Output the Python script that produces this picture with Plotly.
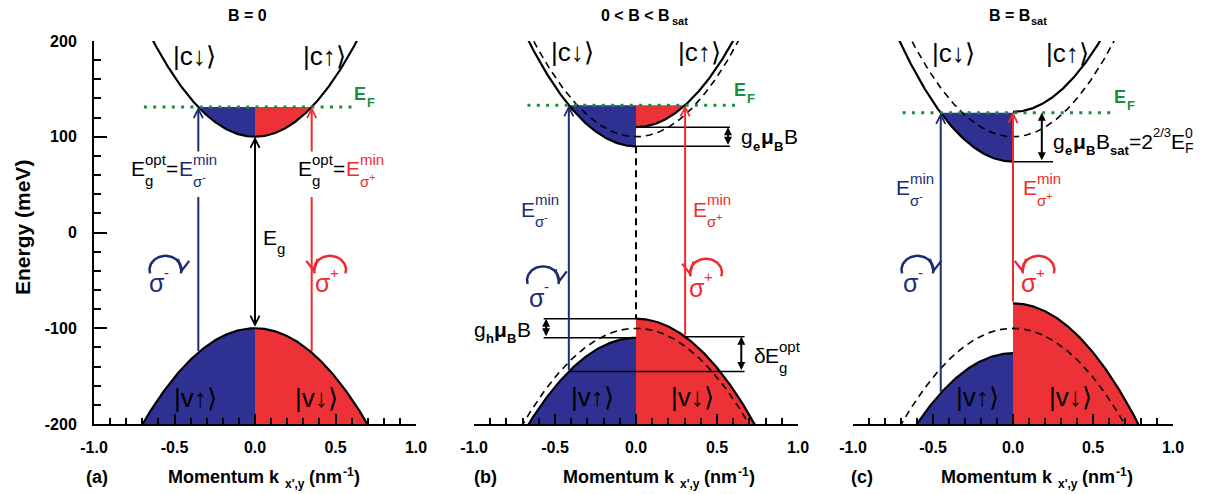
import re
import numpy as np
import plotly.graph_objects as go

# ---------------- values ----------------
panel_titles = ["B = 0", "0 &lt; B &lt; B", "B = B"]
panel_title_subs = ["", "sat", "sat"]
panel_tags = ["(a)", "(b)", "(c)"]
x_ticks = [-1.0, -0.5, 0.0, 0.5, 1.0]
y_ticks = [-200, -100, 0, 100, 200]

EC0 = 100.0      # conduction band bottom at B = 0 (meV)
EV0 = -100.0     # valence band top at B = 0 (meV)
MC = 250.0       # conduction band curvature (meV nm^2)
MV = 205.0       # valence band curvature (meV nm^2)
fermi = [131.0, 133.0, 125.0]      # Fermi level in each panel (meV)
split_c = [0.0, 10.0, 26.0]        # half Zeeman splitting, conduction band
split_v = [0.0, 10.0, 26.0]        # half Zeeman splitting, valence band

# ---------------- style / layout ----------------
FONT = "Liberation Sans, Arial, Helvetica, sans-serif"
W, H = 1207, 494
BLUE_FILL = "#2e3192"
RED_FILL = "#ed3237"
NAVY = "#1c2b72"
RED = "#ef2b2f"
GREEN = "#1b8c3e"
XPIX = [(94, 416), (474, 798), (853, 1173)]
YPIX = (41, 424)
XD = [(a / W, b / W) for a, b in XPIX]
YD = ((H - YPIX[1]) / H, (H - YPIX[0]) / H)
PPK = [(b - a) / 2.0 for a, b in XPIX]
PPE = (YPIX[1] - YPIX[0]) / 400.0
XA = ["x", "x2", "x3"]
YA = ["y", "y2", "y3"]
EF_SPAN = [(-0.69, 0.62), (-0.67, 0.62), (-0.69, 0.62)]


def ecd(p, k):
    return EC0 - split_c[p] + MC * np.asarray(k) ** 2


def ecu(p, k):
    return EC0 + split_c[p] + MC * np.asarray(k) ** 2


def evu(p, k):
    return EV0 - split_v[p] - MV * np.asarray(k) ** 2


def evd(p, k):
    return EV0 + split_v[p] - MV * np.asarray(k) ** 2


CW = {'E': 0.667, 'g': 0.556, 'o': 0.556, 'p': 0.556, 't': 0.278, 'm': 0.833,
      'i': 0.222, 'n': 0.556, '=': 0.584, 'σ': 0.6, '-': 0.333, '+': 0.584,
      'δ': 0.556, '0': 0.556, 'F': 0.611, '2': 0.556, '/': 0.278, '3': 0.556,
      'B': 0.667, 'e': 0.556, 'h': 0.556, 'μ': 0.576, 's': 0.5, 'a': 0.556,
      ' ': 0.278, '<': 0.584, 'M': 0.833, 'u': 0.556, 'k': 0.5, 'x': 0.5,
      "'": 0.191, ',': 0.278, 'y': 0.5, '(': 0.333, ')': 0.333, '1': 0.556,
      'b': 0.556, 'c': 0.5}


def tw(s, size, bold=False):
    s = re.sub(r"<[^>]+>", "", s).replace("&lt;", "<")
    return sum(CW.get(ch, 0.556) for ch in s) * size * (1.07 if bold else 1.0)


def rich(xref, yref, x, y, toks, size=21, color="black", bold=False,
         anchor="left", sup_dy=0.45, sub_dy=-0.55, ssize=None):
    ssize = ssize or round(size * 0.68)
    segs = []
    cur = 0.0
    for t in toks:
        if isinstance(t, str):
            t = {"t": t}
        c = t.get("color", color)
        b = t.get("bold", bold)
        if "t" in t:
            s = t.get("size", size)
            segs.append((t["t"], s, c, b, cur, 0.0))
            cur += tw(t["t"], s, b)
        else:
            s = t.get("ssize", ssize)
            sb = t.get("sbold", b)
            w = 0.0
            if t.get("sup"):
                segs.append((t["sup"], s, c, sb, cur, t.get("sup_dy", sup_dy) * size))
                w = max(w, tw(t["sup"], s, sb))
            if t.get("sub"):
                segs.append((t["sub"], s, c, sb, cur, t.get("sub_dy", sub_dy) * size))
                w = max(w, tw(t["sub"], s, sb))
            cur += w + 0.5
    shift = {"left": 0.0, "center": -cur / 2.0, "right": -cur}[anchor]
    out = []
    for text, s, c, b, xo, dy in segs:
        out.append(dict(xref=xref, yref=yref, x=x, y=y, xanchor="left",
                        yanchor="middle", xshift=xo + shift, yshift=dy,
                        text=text, showarrow=False, borderpad=0,
                        font=dict(family=FONT, size=s, color=c,
                                  weight="bold" if b else "normal")))
    return out


fig = go.Figure()
anns = []


def line(p, xs, ys, color="black", width=2.2, dash=None):
    fig.add_trace(go.Scatter(x=list(xs), y=list(ys), xaxis=XA[p], yaxis=YA[p],
                             mode="lines", line=dict(color=color, width=width, dash=dash),
                             hoverinfo="skip", showlegend=False))


def poly(p, xs, ys, color):
    fig.add_trace(go.Scatter(x=list(xs), y=list(ys), xaxis=XA[p], yaxis=YA[p],
                             mode="lines", fill="toself", fillcolor=color,
                             line=dict(width=0, color=color),
                             hoverinfo="skip", showlegend=False))


def arrow(p, x0, y0, x1, y1, color, width=2.0, head=True, both=False,
          size=0.9, style=5):
    d = dict(xref=XA[p], yref=YA[p], axref=XA[p], ayref=YA[p], x=x1, y=y1,
             ax=x0, ay=y0, text="", showarrow=True, arrowcolor=color,
             arrowwidth=width, arrowhead=style if head else 0, arrowsize=size,
             standoff=0, startstandoff=0)
    if both:
        d.update(arrowside="end+start", startarrowhead=style, startarrowsize=size)
    anns.append(d)


def sigma_arc(p, cx, cy, color, clockwise):
    rxp, ryp = 16.0, 14.0
    deg = np.linspace(195, -15, 60) if clockwise else np.linspace(-15, 195, 60)
    th = np.radians(deg)
    line(p, cx + rxp * np.cos(th) / PPK[p], cy + ryp * np.sin(th) / PPE,
         color=color, width=2.5)
    px, py = rxp * np.cos(th), -ryp * np.sin(th)
    d = np.array([px[-1] - px[-4], py[-1] - py[-4]])
    d = d / np.hypot(*d)
    anns.append(dict(xref=XA[p], yref=YA[p], x=cx + rxp * np.cos(th[-1]) / PPK[p],
                     y=cy + ryp * np.sin(th[-1]) / PPE, ax=-d[0] * 7, ay=-d[1] * 7,
                     text="", showarrow=True, arrowhead=5, arrowsize=0.9,
                     arrowwidth=2.5, arrowcolor=color, standoff=0))


# label positions (k, E) per panel
c_dn_lab = [(-0.373, 184.5), (-0.389, 188), (-0.375, 187)]
c_up_lab = [(0.429, 184.5), (0.395, 188), (0.3375, 187)]
v_up_lab = [(-0.37, -172.8), (-0.27, -172), (-0.22, -172)]
v_dn_lab = [(0.379, -172.8), (0.346, -172), (0.36, -172)]
ef_lab = [(0.609, 144.6), (0.599, 149), (0.625, 141)]
smin_arc = [(-0.556, -39), (-0.574, -50), (-0.597, -39)]
smin_txt = [(-0.60, -53), (-0.605, -68), (-0.63, -53)]
splus_arc = [(0.466, -39), (0.432, -42), (0.159, -39)]
splus_txt = [(0.441, -53), (0.395, -58), (0.12, -53)]
emin_lab = [(-0.776, 66.8), (-0.716, 24.5), (-0.7375, 46.5)]
eplus_lab = [(0.261, 66.8), (0.343, 24.5), (0.054, 46.5)]
GAP_A = (37, 83)
tag_px = [85, 473, 850]
mom_px = [167, 562, 940]
title_px = [(247, "center"), (600, "left"), (988, "left")]

for p in range(3):
    ef = fermi[p]
    c_dn0, c_up0 = float(ecd(p, 0)), float(ecu(p, 0))
    v_up0, v_dn0 = float(evu(p, 0)), float(evd(p, 0))
    kL = -np.sqrt((ef - c_dn0) / MC)
    kR = np.sqrt(max(ef - c_up0, 0.0) / MC)

    # valence fills
    kb = np.sqrt((v_up0 + 200) / MV)
    kk = np.linspace(-kb, 0, 150)
    poly(p, np.concatenate([kk, [0, -kb]]), np.concatenate([evu(p, kk), [-200, -200]]), BLUE_FILL)
    kb = np.sqrt((v_dn0 + 200) / MV)
    kk = np.linspace(0, kb, 150)
    poly(p, np.concatenate([kk, [kb, 0]]), np.concatenate([evd(p, kk), [-200, -200]]), RED_FILL)
    # conduction fills
    kk = np.linspace(kL, 0, 150)
    poly(p, np.concatenate([kk, [0, kL]]), np.concatenate([ecd(p, kk), [ef, ef]]), BLUE_FILL)
    if kR > 0:
        kk = np.linspace(0, kR, 150)
        poly(p, np.concatenate([kk, [0]]), np.concatenate([ecu(p, kk), [ef]]), RED_FILL)

    # B = 0 bands (dashed)
    if p > 0:
        kf = np.linspace(-1, 1, 401)
        line(p, kf, EC0 + MC * kf ** 2, width=1.6, dash="7px,5px")
        line(p, kf, EV0 - MV * kf ** 2, width=1.6, dash="7px,5px")
    # spin bands (solid)
    kl = np.linspace(-1, 0, 201)
    kr = np.linspace(0, 1, 201)
    line(p, kl, ecd(p, kl))
    line(p, kr, ecu(p, kr))
    line(p, kl, evu(p, kl))
    line(p, kr, evd(p, kr))
    # Fermi level
    line(p, EF_SPAN[p], [ef, ef], color=GREEN, width=3, dash="3px,6.3px")

    # transitions
    if p == 0:
        arrow(p, kL, float(evu(p, kL)), kL, GAP_A[0], NAVY, head=False)
        arrow(p, kL, GAP_A[1], kL, ef, NAVY)
        arrow(p, kR, float(evd(p, kR)), kR, GAP_A[0], RED, head=False)
        arrow(p, kR, GAP_A[1], kR, ef, RED)
        arrow(p, 0, v_up0, 0, c_dn0, "black", both=True)
    else:
        arrow(p, kL, float(evu(p, kL)), kL, ef, NAVY)
        arrow(p, kR, float(evd(p, kR)), kR, float(ecu(p, kR)), RED)

    if p == 1:
        line(p, [0, 0], [c_dn0, v_dn0], width=2, dash="7px,5px")
        # conduction splitting
        line(p, [0, 0.58], [c_up0, c_up0], width=1.5)
        line(p, [0, 0.58], [c_dn0, c_dn0], width=1.5)
        arrow(p, 0.568, c_dn0, 0.568, c_up0, "black", both=True, size=0.8, style=2)
        anns.extend(rich(XA[p], YA[p], 0.642, 100,
                         ["g", {"sub": "e", "sbold": True}, {"t": "μ", "bold": True},
                          {"sub": "B", "sbold": True}, "B"],
                         size=21, ssize=13, sub_dy=-0.45))
        # valence splitting
        line(p, [-0.57, 0], [v_dn0, v_dn0], width=1.5)
        line(p, [-0.57, 0], [v_up0, v_up0], width=1.5)
        arrow(p, -0.555, v_up0, -0.555, v_dn0, "black", both=True, size=0.8, style=2)
        anns.extend(rich(XA[p], YA[p], -0.654, -101,
                         ["g", {"sub": "h", "sbold": True}, {"t": "μ", "bold": True},
                          {"sub": "B", "sbold": True}, "B"],
                         size=21, ssize=13, sub_dy=-0.45, anchor="right"))
        # optical gap shift
        yR, yL = float(evd(p, kR)), float(evu(p, kL))
        line(p, [kR, 0.67], [yR, yR], width=1.5)
        line(p, [kL, 0.67], [yL, yL], width=1.5)
        arrow(p, 0.65, yL, 0.65, yR, "black", both=True, size=0.8, style=2)
        anns.extend(rich(XA[p], YA[p], 0.72, -128.5,
                         ["δ", "E", {"sup": "opt", "sub": "g"}], size=21, ssize=15))
    if p == 2:
        line(p, [0, 0.25], [c_dn0, c_dn0], width=1.5)
        arrow(p, 0.18, c_dn0, 0.18, ef, "black", both=True, size=0.8, style=2)
        anns.extend(rich(XA[p], YA[p], 0.244, 95,
                         ["g", {"sub": "e", "sbold": True}, {"t": "μ", "bold": True},
                          {"sub": "B", "sbold": True}, "B", {"sub": "sat", "sbold": True},
                          "=2", {"sup": "2/3"}, "E",
                          {"sup": "0", "sub": "F", "sup_dy": 0.42, "sub_dy": -0.32, "ssize": 14}],
                         size=21, ssize=13, sub_dy=-0.45, sup_dy=0.45))

    # circular polarisation symbols
    sigma_arc(p, smin_arc[p][0], smin_arc[p][1], NAVY, True)
    sigma_arc(p, splus_arc[p][0], splus_arc[p][1], RED, False)
    anns.extend(rich(XA[p], YA[p], smin_txt[p][0], smin_txt[p][1],
                     ["σ", {"sup": "-"}], size=25, ssize=15, color=NAVY, anchor="center"))
    anns.extend(rich(XA[p], YA[p], splus_txt[p][0], splus_txt[p][1],
                     ["σ", {"sup": "+"}], size=25, ssize=15, color=RED, anchor="center"))

    # E_min labels
    if p == 0:
        anns.extend(rich(XA[p], YA[p], emin_lab[p][0], emin_lab[p][1],
                         ["E", {"sup": "opt", "sub": "g"}, "=", {"t": "E", "color": NAVY},
                          {"sup": "min", "sub": "σ<sup>-</sup>", "color": NAVY}],
                         size=21, ssize=15))
        anns.extend(rich(XA[p], YA[p], eplus_lab[p][0], eplus_lab[p][1],
                         ["E", {"sup": "opt", "sub": "g"}, "=", {"t": "E", "color": RED},
                          {"sup": "min", "sub": "σ<sup>+</sup>", "color": RED}],
                         size=21, ssize=15))
        anns.extend(rich(XA[p], YA[p], 0.043, -5.7, ["E", {"sub": "g"}],
                         size=21, ssize=15, sub_dy=-0.5))
    else:
        anns.extend(rich(XA[p], YA[p], emin_lab[p][0], emin_lab[p][1],
                         ["E", {"sup": "min", "sub": "σ<sup>-</sup>"}],
                         size=21, ssize=15, color=NAVY))
        anns.extend(rich(XA[p], YA[p], eplus_lab[p][0], eplus_lab[p][1],
                         ["E", {"sup": "min", "sub": "σ<sup>+</sup>"}],
                         size=21, ssize=15, color=RED))

    # band labels
    for (kx, ey), txt in [(c_dn_lab[p], "|c\u2193\u27e9"), (c_up_lab[p], "|c\u2191\u27e9"),
                          (v_up_lab[p], "|v\u2191\u27e9"), (v_dn_lab[p], "|v\u2193\u27e9")]:
        anns.append(dict(xref=XA[p], yref=YA[p], x=kx, y=ey, text=txt, showarrow=False,
                         xanchor="center", yanchor="middle",
                         font=dict(family=FONT, size=26, color="black")))
    # Fermi label
    anns.extend(rich(XA[p], YA[p], ef_lab[p][0], ef_lab[p][1], ["E", {"sub": "F"}],
                     size=18, ssize=13, bold=True, color=GREEN, sub_dy=-0.47))

    # titles and bottom labels
    toks = [panel_titles[p]]
    if panel_title_subs[p]:
        toks.append({"sub": panel_title_subs[p], "sub_dy": -0.4})
    anns.extend(rich("paper", "paper", title_px[p][0] / W, 1 - 15 / H, toks,
                     size=16, ssize=11, bold=True, anchor=title_px[p][1]))
    anns.extend(rich("paper", "paper", tag_px[p] / W, 1 - 477 / H, [panel_tags[p]],
                     size=18, bold=True))
    anns.extend(rich("paper", "paper", mom_px[p] / W, 1 - 477 / H,
                     ["Momentum k ", {"sub": "x',y", "sub_dy": -0.4}, " (nm",
                      {"sup": "-1", "sup_dy": 0.3}, ")"],
                     size=18, ssize=12, bold=True))

anns.append(dict(xref="paper", yref="paper", x=22 / W, y=1 - 228 / H,
                 text="Energy (meV)", textangle=-90, showarrow=False,
                 xanchor="center", yanchor="middle",
                 font=dict(family=FONT, size=21, color="black", weight="bold")))

layout = dict(width=W, height=H,
              margin=dict(l=0, r=0, t=0, b=0, pad=0, autoexpand=False),
              paper_bgcolor="white", plot_bgcolor="white", showlegend=False,
              annotations=anns, hovermode=False)
tickfont = dict(family=FONT, size=16, color="black", weight="bold")
for p in range(3):
    sfx = "" if p == 0 else str(p + 1)
    layout["xaxis" + sfx] = dict(
        domain=list(XD[p]), range=[-1, 1], anchor=YA[p], showline=True,
        linecolor="black", linewidth=2, ticks="inside", ticklen=10, tickwidth=2,
        tickcolor="black", tickvals=x_ticks, ticktext=[f"{v:.1f}" for v in x_ticks],
        tickfont=tickfont, showgrid=False, zeroline=False, fixedrange=True,
        ticklabelstandoff=8, automargin=False,
        minor=dict(ticks="inside", ticklen=6, tickwidth=1.5, tickcolor="black",
                   tickmode="linear", tick0=-1, dtick=0.1, showgrid=False))
    ycfg = dict(domain=list(YD), range=[-200, 200], anchor=XA[p], showgrid=False,
                zeroline=False, fixedrange=True, automargin=False)
    if p == 0:
        ycfg.update(showline=True, linecolor="black", linewidth=2, ticks="inside",
                    ticklen=13, tickwidth=2, tickcolor="black", tickvals=y_ticks,
                    ticktext=[str(v) for v in y_ticks], tickfont=tickfont,
                    ticklabelstandoff=12,
                    minor=dict(ticks="inside", ticklen=7, tickwidth=2, tickcolor="black",
                               tickmode="linear", tick0=-200, dtick=20, showgrid=False))
    else:
        ycfg.update(visible=False)
    layout["yaxis" + sfx] = ycfg

fig.update_layout(**layout)
fig.write_html("out.html")
